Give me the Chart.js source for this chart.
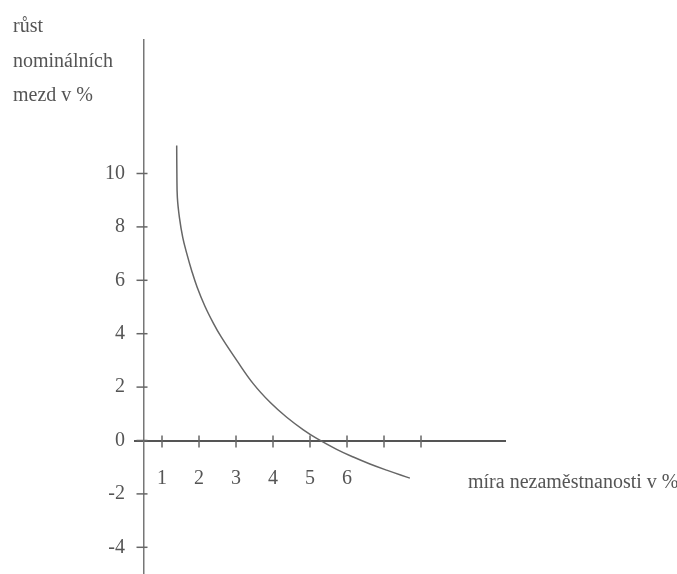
<!DOCTYPE html>
<html>
<head>
<meta charset="utf-8">
<script src="https://cdn.jsdelivr.net/npm/chart.js@4"></script>
<style>
  html, body { margin: 0; padding: 0; background: #fff; }
  #wrap { position: relative; width: 677px; height: 574px; }
</style>
</head>
<body>
<div id="wrap"><canvas id="phillips" width="677" height="574"></canvas></div>
<script>
// Phillipsova křivka
const nezamestnanost = [1.397, 1.402, 1.415, 1.47, 1.56, 1.67, 1.80, 1.95, 2.16, 2.39, 2.60, 3.02, 3.47, 3.92, 4.37, 4.82, 5.18, 5.72, 6.17, 6.62, 7.07, 7.70];
const rustMezd = [11.05, 10.0, 9.1, 8.36, 7.61, 7.0, 6.37, 5.74, 5.03, 4.39, 3.88, 3.0, 2.12, 1.43, 0.87, 0.40, 0.08, -0.33, -0.62, -0.88, -1.11, -1.41];

const xTicks = [1, 2, 3, 4, 5, 6, 7, 8];
const xTickLabels = ['1', '2', '3', '4', '5', '6', '', ''];
const yTicks = [-4, -2, 0, 2, 4, 6, 8, 10];

const yTitle = ['růst', 'nominálních', 'mezd v %'];
const xTitle = 'míra nezaměstnanosti v %';

const font = { family: '"Liberation Serif", "DejaVu Serif", serif', size: 20 };
const textColor = '#555';
const axisColor = '#666';

// křížky na osách (přes osu, ne jen ven)
const crossTicks = {
    id: 'crossTicks',
    afterDraw(chart) {
        const ctx = chart.ctx;
        const xs = chart.scales.x, ys = chart.scales.y;
        const x0 = xs.getPixelForValue(0.5);
        const y0 = ys.getPixelForValue(0);
        ctx.save();
        ctx.strokeStyle = axisColor;
        ctx.lineWidth = 1.5;
        xTicks.forEach(v => {
            const px = xs.getPixelForValue(v);
            ctx.beginPath();
            ctx.moveTo(px, y0 - 5);
            ctx.lineTo(px, y0 + 7);
            ctx.stroke();
        });
        yTicks.forEach(v => {
            const py = ys.getPixelForValue(v);
            ctx.beginPath();
            ctx.moveTo(x0 - 7, py);
            ctx.lineTo(x0 + 4, py);
            ctx.stroke();
        });
        ctx.restore();
    }
};

// popisky os
const axisTitles = {
    id: 'axisTitles',
    afterDraw(chart) {
        const ctx = chart.ctx;
        ctx.save();
        ctx.fillStyle = textColor;
        ctx.font = font.size + 'px ' + font.family;
        ctx.textBaseline = 'alphabetic';
        ctx.textAlign = 'left';
        yTitle.forEach((t, i) => ctx.fillText(t, 13, 32 + i * 34.5));
        ctx.fillText(xTitle, 468, 488);
        ctx.restore();
    }
};

const ctx = document.getElementById('phillips').getContext('2d');
new Chart(ctx, {
    type: 'scatter',
    data: {
        datasets: [{
            label: 'Phillipsova křivka',
            data: nezamestnanost.map((x, i) => ({ x: x, y: rustMezd[i] })),
            showLine: true,
            borderColor: '#666',
            borderWidth: 1.5,
            pointRadius: 0,
            tension: 0.4,
            fill: false
        }]
    },
    options: {
        responsive: false,
        animation: false,
        layout: { padding: { left: 105, right: 172, top: 40, bottom: 0 } },
        plugins: {
            legend: { display: false },
            tooltip: { enabled: false }
        },
        scales: {
            x: {
                type: 'linear',
                min: 0.27,
                max: 10.27,
                position: { y: 0 },
                afterBuildTicks: axis => { axis.ticks = xTicks.map(v => ({ value: v })); },
                afterFit: axis => { axis.height = 0; axis.paddingLeft = 0; axis.paddingRight = 0; },
                ticks: {
                    font: font,
                    color: textColor,
                    padding: 26,
                    maxRotation: 0,
                    callback: (v) => xTickLabels[xTicks.indexOf(v)] || ''
                },
                grid: { drawOnChartArea: false, drawTicks: false },
                border: { display: true, color: '#555', width: 2 }
            },
            // osa y v bodě x = 0.5 (jen čára)
            y: {
                type: 'linear',
                min: -5,
                max: 15,
                position: { x: 0.5 },
                afterBuildTicks: axis => { axis.ticks = yTicks.map(v => ({ value: v })); },
                afterFit: axis => { axis.width = 0; axis.paddingTop = 0; axis.paddingBottom = 0; },
                ticks: { display: false },
                grid: { drawOnChartArea: false, drawTicks: false },
                border: { display: true, color: '#777', width: 1.5 }
            },
            // popisky osy y vlevo
            yLabels: {
                type: 'linear',
                min: -5,
                max: 15,
                position: 'left',
                afterBuildTicks: axis => { axis.ticks = yTicks.map(v => ({ value: v })); },
                afterFit: axis => { axis.width = 30; axis.paddingTop = 0; axis.paddingBottom = 0; },
                ticks: {
                    font: font,
                    color: textColor,
                    padding: 10
                },
                grid: { display: false, drawTicks: false },
                border: { display: false }
            }
        }
    },
    plugins: [crossTicks, axisTitles]
});
</script>
</body>
</html>
